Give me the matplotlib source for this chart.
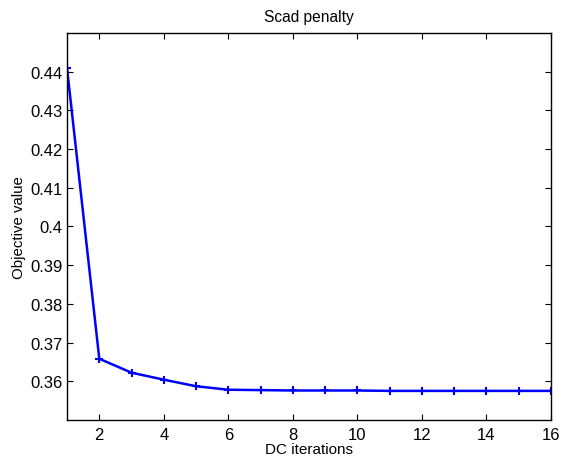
import matplotlib
matplotlib.use("Agg")
import matplotlib.pyplot as plt

plt.rcParams['font.family'] = ['Liberation Sans', 'DejaVu Sans']

iterations = list(range(1, 17))
objective = [0.4409, 0.3658, 0.3622, 0.3604, 0.3587, 0.3578, 0.3577, 0.3576,
             0.3576, 0.3576, 0.3575, 0.3575, 0.3575, 0.3575, 0.3575, 0.3575]
xticks = [2, 4, 6, 8, 10, 12, 14, 16]
yticks = [0.36, 0.37, 0.38, 0.39, 0.40, 0.41, 0.42, 0.43, 0.44]
ytick_labels = ['0.36', '0.37', '0.38', '0.39', '0.4', '0.41', '0.42', '0.43', '0.44']

fig = plt.figure(figsize=(5.68, 4.6), dpi=100)
ax = fig.add_axes([0.118, 0.085, 0.852, 0.841])
ax.plot(iterations, objective, color='#0000ff', linewidth=1.8, marker='+',
        markersize=6, markeredgewidth=1.5)
ax.set_xlim(1, 16)
ax.set_ylim(0.35, 0.45)
ax.set_xticks(xticks)
ax.set_yticks(yticks)
ax.set_yticklabels(ytick_labels)
ax.tick_params(direction='in', top=True, right=True, labelsize=12, length=4, width=0.8, pad=3)
ax.tick_params(axis='x', pad=5)
for s in ax.spines.values():
    s.set_linewidth(1.0)
ax.set_title('Scad penalty', fontsize=11.2, pad=9)
ax.set_xlabel('DC iterations', fontsize=11, labelpad=0)
ax.set_ylabel('Objective value', fontsize=10.8, labelpad=3)
fig.savefig('out.png', dpi=100)
